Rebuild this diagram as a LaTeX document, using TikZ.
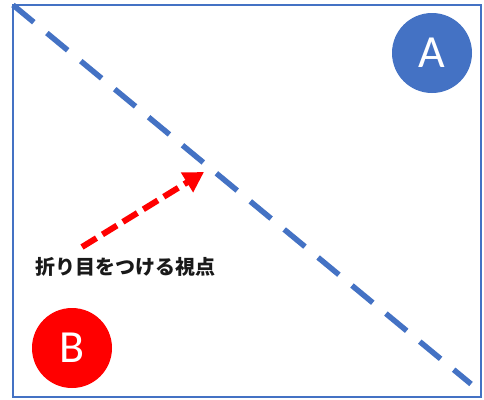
\documentclass[tikz,border=0pt]{standalone}
\usepackage{fontspec}
\newfontfamily\cjk{Noto Sans CJK JP}
\newfontfamily\lat{Carlito}
\usetikzlibrary{arrows.meta}
\definecolor{oblue}{HTML}{4472C4}
\definecolor{ored}{HTML}{FF0000}
\tikzset{
  fold/.style={draw=oblue, line width=5.5pt, dash pattern=on 27pt off 17pt},
  viewarrow/.style={draw=ored, line width=6pt, dash pattern=on 17pt off 7pt, -{Triangle[length=20pt,width=22pt]}},
  badge/.style={circle, minimum size=80pt, inner sep=0pt, text=white, font=\lat\fontsize{46}{46}\selectfont},
  frame/.style={draw=oblue, line width=1.5pt}
}
\begin{document}
\begin{tikzpicture}[x=1pt,y=-1pt]
\useasboundingbox (0,0) rectangle (484,399);
\fill[white] (0,0) rectangle (484,399);
\draw[frame] (13,5) rectangle (481,397);
\coordinate (f1) at (13,5);
\coordinate (f2) at (471,384);
\draw[fold] (f1) -- (f2);
\node[badge, fill=oblue] (A) at (432,53) {A};
\node[badge, fill=ored] (B) at (72,348) {B};
\node[font=\cjk\bfseries\fontsize{20}{20}\selectfont, text=black!90, anchor=west, inner sep=0pt] (label) at (35,267) {折り目をつける視点};
\coordinate (s) at (82,247);
\coordinate (t) at (204,172);
\draw[viewarrow] (s) -- (t);
\end{tikzpicture}
\end{document}
